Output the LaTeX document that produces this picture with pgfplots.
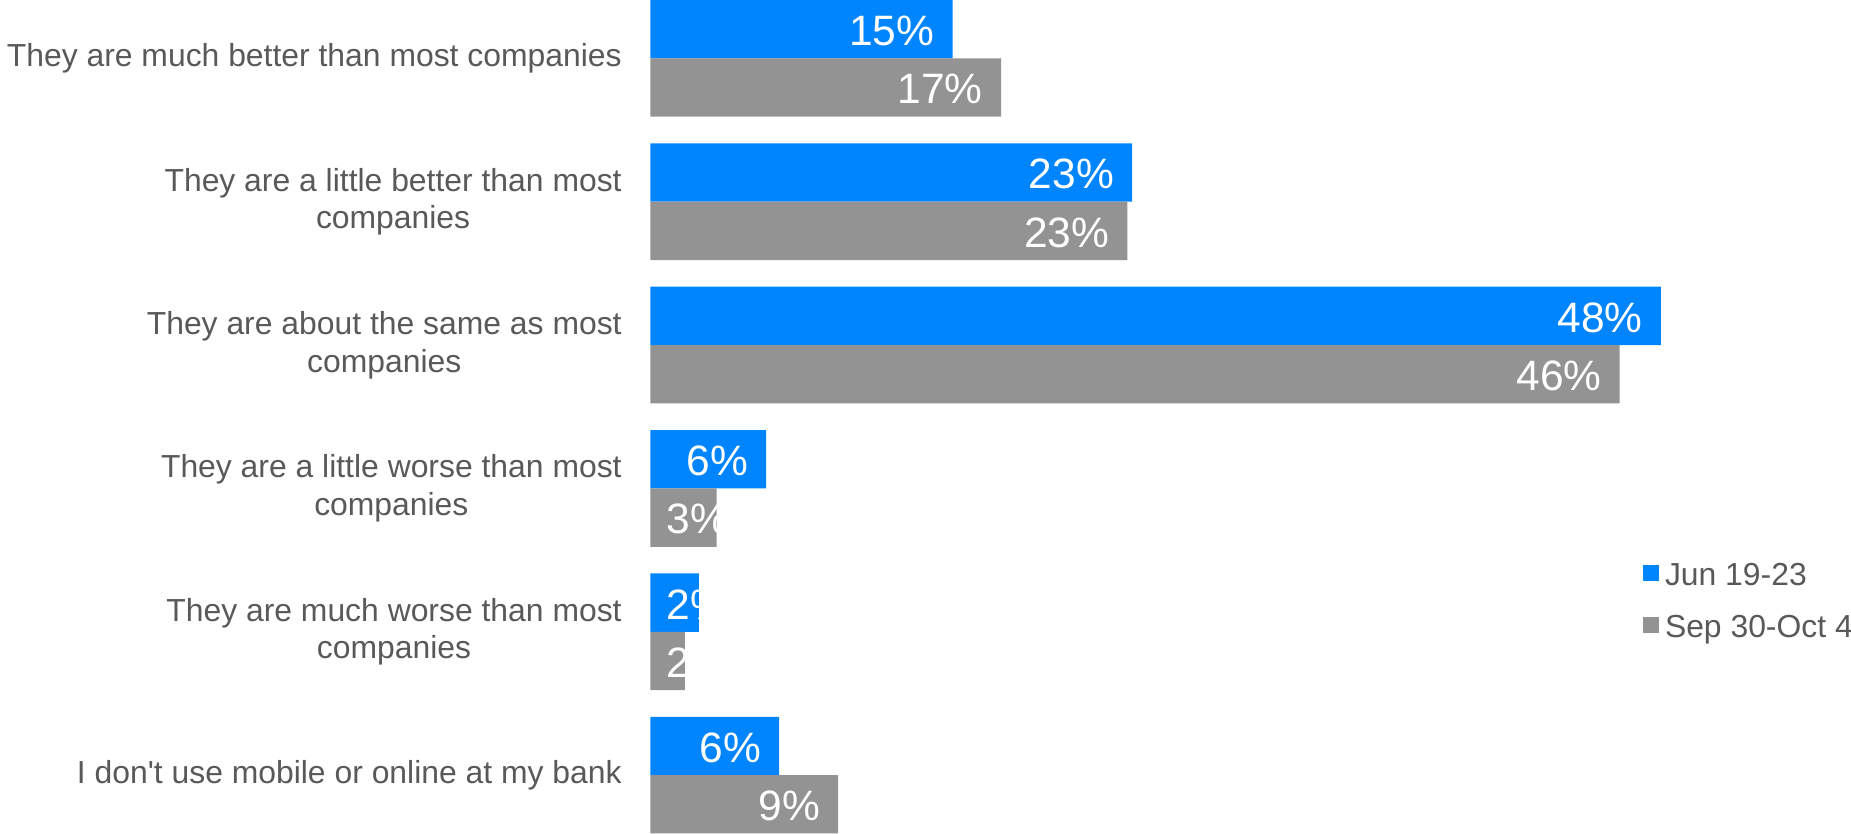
\documentclass[border=0pt]{standalone}
\usepackage{pgfplots}
\pgfplotsset{compat=1.18}
\usepackage{fontspec}
\setmainfont{Liberation Sans}
\definecolor{cblue}{HTML}{0085FF}
\definecolor{cgray}{HTML}{939393}
\definecolor{ctext}{HTML}{595959}
\begin{document}
\begin{tikzpicture}
\begin{axis}[
  scale only axis,
  width=508.5pt, height=353pt,
  at={(0,0)}, anchor=south west,
  xmin=0, xmax=57.03,
  ymin=-0.407, ymax=5.407,
  y dir=reverse,
  axis line style={draw=none},
  major tick length=0pt,
  xtick=\empty,
  ytick={0,1,2,3,4,5},
  yticklabels={
    {They are much better than most companies},
    {They are a little better than most\\companies},
    {They are about the same as most\\companies},
    {They are a little worse than most\\companies},
    {They are much worse than most\\companies},
    {I don\textquotesingle t use mobile or online at my bank}},
  yticklabel style={align=center, anchor=east, inner sep=0pt, xshift=-12pt,
    font=\fontsize{13.5}{16}\selectfont, text=ctext},
  clip=false,
  legend style={at={(rel axis cs:0.826,0.276)}, anchor=west, draw=none, fill=none,
    inner sep=0pt, font=\fontsize{13.5}{16}\selectfont, text=ctext,
    row sep=9pt,
    nodes={inner sep=0pt, text height=10pt, text depth=3pt}},
  legend cell align=left,
  legend image code/.code={\fill[#1] (0pt,-1.7pt) rectangle (7pt,5.3pt);},
  nodes near coords style={anchor=east, inner sep=0pt, text=white, yshift=-0.75pt,
    font=\fontsize{18}{21.6}\selectfont},
]
\addplot[xbar, bar width=0.407, bar shift=-0.2035, fill=cblue, draw=none]
  coordinates {(14.36,0) (22.88,1) (48.0,2) (5.50,3) (2.30,4) (6.11,5)};
\addlegendentry{\hspace{2.5pt}Jun 19-23}
\addplot[xbar, bar width=0.407, bar shift=0.2035, fill=cgray, draw=none]
  coordinates {(16.66,0) (22.66,1) (46.04,2) (3.14,3) (1.63,4) (8.92,5)};
\addlegendentry{\hspace{2.5pt}Sep 30-Oct 4}
% value labels (white text; right edge inside bar end)
\addplot[forget plot, draw=none, mark=none, nodes near coords,
  point meta=explicit symbolic] table[meta=label] {
x y label
13.51 -0.2035 15\%
22.04 0.7965 23\%
47.16 1.7965 48\%
4.65 2.7965 6\%
3.70 3.7965 2\%
5.27 4.7965 6\%
};
\addplot[forget plot, draw=none, mark=none, nodes near coords,
  point meta=explicit symbolic] table[meta=label] {
x y label
15.81 0.2035 17\%
21.81 1.2035 23\%
45.20 2.2035 46\%
3.70 3.2035 3\%
3.70 4.2035 2\%
8.07 5.2035 9\%
};
\end{axis}
\pgfresetboundingbox
\path[use as bounding box] ([xshift=-275.5pt]current axis.south west) rectangle (current axis.north east);
\end{tikzpicture}
\end{document}
